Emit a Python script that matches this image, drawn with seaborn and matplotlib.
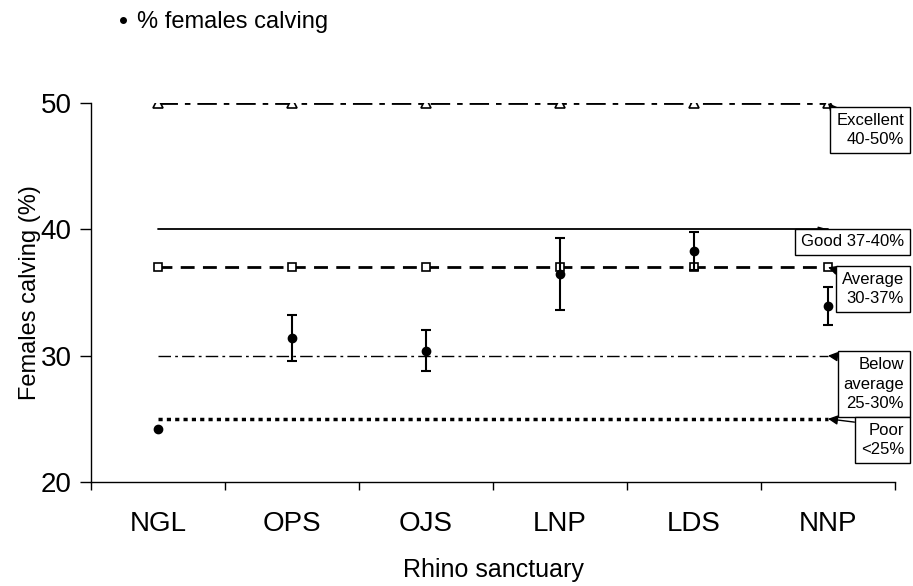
import matplotlib
matplotlib.use("Agg")
import matplotlib.pyplot as plt
from matplotlib.lines import Line2D
import seaborn as sns
import numpy as np
import pandas as pd

# sanctuaries and calving data
sites = ["NGL", "OPS", "OJS", "LNP", "LDS", "NNP"]
calving_mean = [24.2, 31.4, 30.4, 36.5, 38.3, 33.9]
calving_err = [np.nan, 1.8, 1.65, 2.85, 1.5, 1.5]

# performance thresholds (one value per sanctuary)
excellent = [50, 50, 50, 50, 50, 50]
good = [40, 40, 40, 40, 40, 40]
average = [37, 37, 37, 37, 37, 37]
below_avg = [30, 30, 30, 30, 30, 30]
poor = [25, 25, 25, 25, 25, 25]

sns.set_style("ticks", {"axes.edgecolor": "black", "text.color": "black",
                        "xtick.color": "black", "ytick.color": "black",
                        "axes.labelcolor": "black"})
plt.rcParams["font.family"] = ["Liberation Sans", "DejaVu Sans"]

fig, ax = plt.subplots(figsize=(9.13, 5.86), dpi=100)
fig.subplots_adjust(left=0.0997, right=0.9803, bottom=0.1775, top=0.8242)

df = pd.DataFrame({"site": sites, "excellent": excellent, "good": good,
                   "average": average, "below": below_avg, "poor": poor})

sns.lineplot(data=df, x="site", y="excellent", ax=ax, color="black", lw=2,
             marker="^", markersize=7, markerfacecolor="white",
             markeredgecolor="black", markeredgewidth=1.2, sort=False)
ax.lines[-1].set_dashes((7, 2.5, 2, 2.5))
sns.lineplot(data=df, x="site", y="good", ax=ax, color="black", lw=1.3, sort=False)
sns.lineplot(data=df, x="site", y="average", ax=ax, color="black", lw=2,
             marker="s", markersize=6, markerfacecolor="white",
             markeredgecolor="black", markeredgewidth=1.2, sort=False)
ax.lines[-1].set_dashes((5, 3))
sns.lineplot(data=df, x="site", y="below", ax=ax, color="black", lw=1, sort=False)
ax.lines[-1].set_dashes((9, 3, 2, 3))
sns.lineplot(data=df, x="site", y="poor", ax=ax, color="black", lw=2.5, sort=False)
ax.lines[-1].set_dashes((1.2, 1.2))

xpos = np.arange(len(sites))
ax.errorbar(xpos, calving_mean, yerr=calving_err, fmt="o", color="black",
            markersize=6, capsize=3.5, elinewidth=1.5, capthick=1.5, zorder=5)

ax.set_xlim(-0.5, 5.5)
ax.set_ylim(20, 50)
ax.set_yticks([20, 30, 40, 50])
ax.set_xticks(xpos)
ax.set_xticklabels(sites)
ax.set_xticks(np.arange(-0.5, 6, 1), minor=True)
ax.tick_params(axis="x", which="major", length=0, labelsize=20, pad=21)
ax.tick_params(axis="x", which="minor", length=6, width=1, direction="out")
ax.tick_params(axis="y", length=8, width=1, direction="out", labelsize=20, pad=6)
sns.despine(ax=ax)
for s in ["left", "bottom"]:
    ax.spines[s].set_linewidth(1)
ax.set_xlabel("Rhino sanctuary", fontsize=18, labelpad=15)
ax.set_ylabel("Females calving (%)", fontsize=17, labelpad=0)

# category boxes with arrows to the line ends
labels = [("Excellent\n40-50%", 50, 904, 130),
          ("Good 37-40%", 40, 904, 242),
          ("Average\n30-37%", 37, 904, 289),
          ("Below\naverage\n25-30%", 30, 904, 384),
          ("Poor\n<25%", 25, 904, 440)]
for txt, val, px, py in labels:
    ax.annotate(txt, xy=(5, val), xycoords="data",
                xytext=(px / 913, 1 - py / 586), textcoords="figure fraction",
                ha="right", va="center", fontsize=12, linespacing=1.35,
                bbox=dict(boxstyle="square,pad=0.35", fc="white", ec="black", lw=1),
                arrowprops=dict(arrowstyle="-|>", color="black", lw=1, relpos=(0, 1),
                                shrinkA=0, shrinkB=0, mutation_scale=14),
                annotation_clip=False, zorder=6)

handle = Line2D([], [], marker="o", color="black", linestyle="none", markersize=4)
fig.legend([handle], ["% females calving"], loc="center left",
           bbox_to_anchor=(0.128, 0.9625), frameon=False, fontsize=17,
           borderaxespad=0, borderpad=0, handlelength=0.5, handletextpad=0.35)

fig.savefig("out.png", dpi=100)
